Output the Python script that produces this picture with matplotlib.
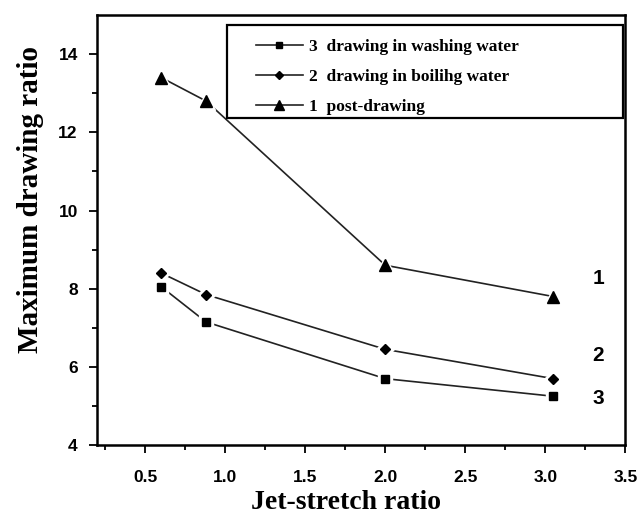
import matplotlib
matplotlib.use("Agg")
import matplotlib.pyplot as plt
from matplotlib.lines import Line2D
from matplotlib.patches import Rectangle

jet_stretch = [0.6, 0.88, 2.0, 3.05]
post_drawing = [13.4, 12.8, 8.6, 7.8]        # curve 1
boiling_water = [8.4, 7.85, 6.45, 5.7]       # curve 2
washing_water = [8.05, 7.15, 5.7, 5.25]      # curve 3

series = [
    ("3  drawing in washing water", washing_water, "s", 6, "3"),
    ("2  drawing in boilihg water", boiling_water, "D", 5.5, "2"),
    ("1  post-drawing", post_drawing, "^", 8.5, "1"),
]
curve_labels = {"1": 8.25, "2": 6.3, "3": 5.2}

serif = "Liberation Serif"
sans = "Liberation Sans"

fig = plt.figure(figsize=(6.4, 5.17), dpi=100)
ax = fig.add_axes([0.152, 0.139, 0.825, 0.832])

handles = []
for label, vals, mk, ms, num in series:
    # line with small gaps round the symbols, like the original plot
    ax.plot(jet_stretch, vals, color="#222222", lw=1.2, zorder=1)
    ax.plot(jet_stretch, vals, ls="none", marker=mk, ms=ms + 4, mfc="white",
            mec="white", zorder=2)
    ax.plot(jet_stretch, vals, ls="none", marker=mk, ms=ms, color="black",
            zorder=3)
    handles.append(Line2D([], [], color="#222222", lw=1.2, marker=mk,
                          ms=ms - 1.5, mfc="black", mec="black", label=label))
    ax.text(3.33, curve_labels[num], num, fontsize=15, fontweight="bold",
            family=sans, ha="center", va="center")

ax.set_xlim(0.2, 3.5)
ax.set_ylim(4, 15)
ax.set_xticks([0.5, 1.0, 1.5, 2.0, 2.5, 3.0, 3.5])
ax.set_xticks([0.25, 0.75, 1.25, 1.75, 2.25, 2.75, 3.25], minor=True)
ax.set_yticks([4, 6, 8, 10, 12, 14])
ax.set_yticks([5, 7, 9, 11, 13], minor=True)
ax.tick_params(which="both", direction="out", width=1.3, top=False, right=False)
ax.tick_params(which="major", length=6)
ax.tick_params(which="minor", length=3.5)
ax.tick_params(axis="x", which="major", pad=12)
ax.tick_params(axis="y", which="major", pad=8)
for s in ax.spines.values():
    s.set_linewidth(1.8)

for lab in ax.get_xticklabels() + ax.get_yticklabels():
    lab.set_fontfamily(sans)
    lab.set_fontweight("bold")
    lab.set_fontsize(12.5)

ax.set_xlabel("Jet-stretch ratio", fontsize=20, fontweight="bold",
              family=serif)
ax.set_ylabel("Maximum drawing ratio", fontsize=21, fontweight="bold",
              family=serif)
ax.xaxis.set_label_coords(0.472, -0.105)
ax.yaxis.set_label_coords(-0.100, 0.57)

# legend frame drawn separately so it can be wider than its content
ax.add_patch(Rectangle((0.246, 0.760), 0.750, 0.217, transform=ax.transAxes,
                       fill=False, ec="black", lw=1.6, zorder=4))
leg = ax.legend(handles=handles, loc="upper left",
                bbox_to_anchor=(0.300, 0.945), borderaxespad=0, borderpad=0,
                prop={"family": serif, "weight": "bold", "size": 12.5},
                frameon=False, handlelength=2.7, handletextpad=0.35,
                labelspacing=0.8)

fig.savefig("out.png", dpi=100)
